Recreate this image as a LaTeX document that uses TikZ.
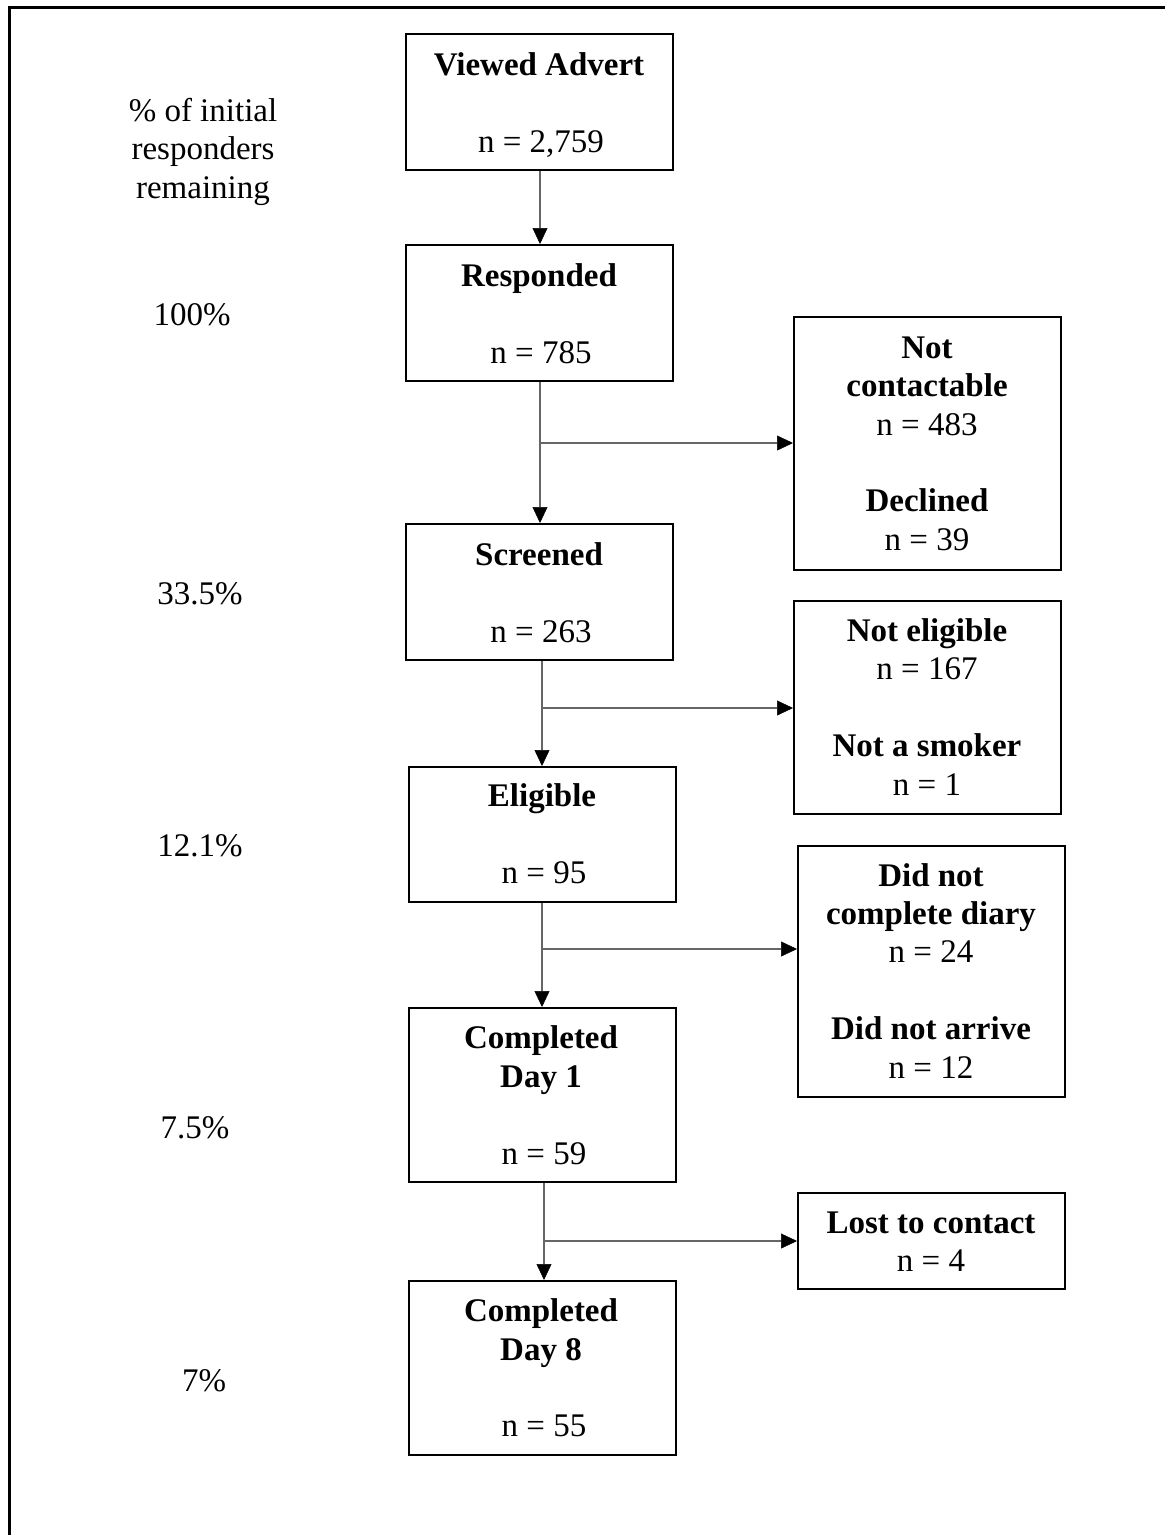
\documentclass[tikz,border=0pt]{standalone}
\usepackage{fontspec}
\setmainfont{Liberation Serif}
\usetikzlibrary{arrows.meta}
\begin{document}
\begin{tikzpicture}[x=1pt,y=-1pt,
  box/.style={draw=black,line width=2pt,inner sep=0pt,anchor=north west,minimum width=267pt},
  txt/.style={anchor=base,inner sep=0pt,font=\fontsize{33}{38}\selectfont},
  btxt/.style={txt,font=\fontsize{33}{38}\selectfont\bfseries},
  arr/.style={draw=black!60,line width=1.5pt,-{Triangle[length=16pt,width=15pt,color=black,fill=black,line width=0.5pt]}}
]
\useasboundingbox (0,0) rectangle (1165,1535);
\draw[line width=3pt] (9,1535) -- (9,7) -- (1165,7);

% main boxes
\node[box,minimum height=136pt] (view) at (405,33) {};
\node[box,minimum height=136pt] (resp) at (405,244) {};
\node[box,minimum height=136pt] (scr) at (405,523) {};
\node[box,minimum height=135pt] (elig) at (408,766) {};
\node[box,minimum height=174pt] (d1) at (408,1007) {};
\node[box,minimum height=174pt] (d8) at (408,1280) {};

% side boxes
\node[box,minimum height=253pt] (sa) at (793,316) {};
\node[box,minimum height=213pt] (sb) at (793,600) {};
\node[box,minimum height=251pt] (sc) at (797,845) {};
\node[box,minimum height=96pt] (sd) at (797,1192) {};

% main box texts
\node[btxt] (t1) at (539,75) {Viewed Advert};
\node[txt] (t2) at (541,152) {n = 2,759};
\node[btxt] (t3) at (539,286) {Responded};
\node[txt] (t4) at (541,363) {n = 785};
\node[btxt] (t5) at (539,565) {Screened};
\node[txt] (t6) at (541,642) {n = 263};
\node[btxt] (t7) at (542,806) {Eligible};
\node[txt] (t8) at (544,883) {n = 95};
\node[btxt] (t9) at (541,1048) {Completed};
\node[btxt] (t10) at (541,1087) {Day 1};
\node[txt] (t11) at (544,1164) {n = 59};
\node[btxt] (t12) at (541,1321) {Completed};
\node[btxt] (t13) at (541,1360) {Day 8};
\node[txt] (t14) at (544,1436) {n = 55};

% side box texts
\node[btxt] (s1) at (927,358) {Not};
\node[btxt] (s2) at (927,396) {contactable};
\node[txt] (s3) at (927,435) {n = 483};
\node[btxt] (s4) at (927,511) {Declined};
\node[txt] (s5) at (927,550) {n = 39};
\node[btxt] (s6) at (927,641) {Not eligible};
\node[txt] (s7) at (927,679) {n = 167};
\node[btxt] (s8) at (927,756) {Not a smoker};
\node[txt] (s9) at (927,795) {n = 1};
\node[btxt] (s10) at (931,886) {Did not};
\node[btxt] (s11) at (931,924) {complete diary};
\node[txt] (s12) at (931,962) {n = 24};
\node[btxt] (s13) at (931,1039) {Did not arrive};
\node[txt] (s14) at (931,1078) {n = 12};
\node[btxt] (s15) at (931,1233) {Lost to contact};
\node[txt] (s16) at (931,1271) {n = 4};

% percentages
\node[txt] (p0a) at (203,121) {\% of initial};
\node[txt] (p0b) at (203,159) {responders};
\node[txt] (p0c) at (203,198) {remaining};
\node[txt] (p1) at (192,325) {100\%};
\node[txt] (p2) at (200,604) {33.5\%};
\node[txt] (p3) at (200,856) {12.1\%};
\node[txt] (p4) at (195,1138) {7.5\%};
\node[txt] (p5) at (204,1391) {7\%};

% vertical arrows
\draw[arr] (view.south -| 540,0) -- (resp.north -| 540,0);
\draw[arr] (resp.south -| 540,0) -- (scr.north -| 540,0);
\draw[arr] (scr.south -| 542,0) -- (elig.north -| 542,0);
\draw[arr] (elig.south -| 542,0) -- (d1.north -| 542,0);
\draw[arr] (d1.south -| 544,0) -- (d8.north -| 544,0);

% branch arrows
\coordinate (b1) at (540,443);
\coordinate (b2) at (542,708);
\coordinate (b3) at (542,949);
\coordinate (b4) at (544,1241);
\draw[arr] (b1) -- (b1 -| sa.west);
\draw[arr] (b2) -- (b2 -| sb.west);
\draw[arr] (b3) -- (b3 -| sc.west);
\draw[arr] (b4) -- (b4 -| sd.west);
\end{tikzpicture}
\end{document}
